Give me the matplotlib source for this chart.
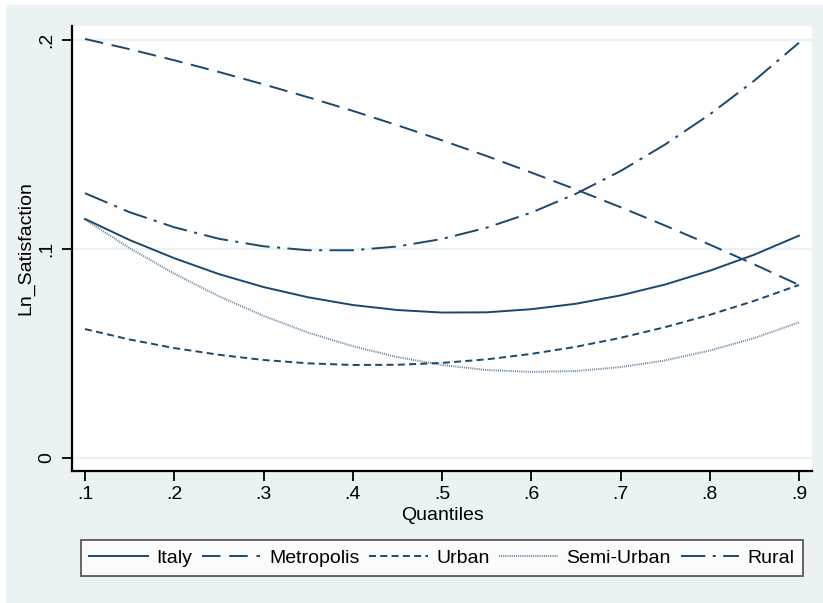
import matplotlib
matplotlib.use("Agg")
import matplotlib.pyplot as plt
from matplotlib.patches import Rectangle
import numpy as np

plt.rcParams['font.family'] = ['Liberation Sans', 'DejaVu Sans']

quantiles = [0.10, 0.15, 0.20, 0.25, 0.30, 0.35, 0.40, 0.45, 0.50,
             0.55, 0.60, 0.65, 0.70, 0.75, 0.80, 0.85, 0.90]
italy = [0.1144, 0.1043, 0.0956, 0.0880, 0.0818, 0.0769, 0.0732, 0.0708, 0.0696,
         0.0697, 0.0712, 0.0738, 0.0778, 0.0830, 0.0896, 0.0973, 0.1064]
metropolis = [0.2005, 0.1956, 0.1903, 0.1847, 0.1788, 0.1726, 0.1661, 0.1592, 0.1520,
              0.1445, 0.1366, 0.1285, 0.1200, 0.1112, 0.1021, 0.0926, 0.0828]
urban = [0.0617, 0.0567, 0.0526, 0.0494, 0.0469, 0.0453, 0.0445, 0.0446, 0.0455,
         0.0472, 0.0498, 0.0532, 0.0575, 0.0626, 0.0685, 0.0752, 0.0828]
semi_urban = [0.1140, 0.1004, 0.0882, 0.0774, 0.0680, 0.0600, 0.0535, 0.0483, 0.0445,
              0.0421, 0.0412, 0.0416, 0.0435, 0.0467, 0.0514, 0.0574, 0.0649]
rural = [0.1267, 0.1176, 0.1104, 0.1049, 0.1013, 0.0994, 0.0994, 0.1012, 0.1048,
         0.1102, 0.1174, 0.1264, 0.1373, 0.1500, 0.1644, 0.1806, 0.1987]

series_labels = ["Italy", "Metropolis", "Urban", "Semi-Urban", "Rural"]
xticks = [0.1, 0.2, 0.3, 0.4, 0.5, 0.6, 0.7, 0.8, 0.9]
xticklabels = [".1", ".2", ".3", ".4", ".5", ".6", ".7", ".8", ".9"]
yticks = [0.0, 0.1, 0.2]
yticklabels = ["0", ".1", ".2"]

W, H = 823, 603
fig = plt.figure(figsize=(W / 100, H / 100), dpi=100, facecolor="white")
bg = "#eaf2f3"
fig.patches.append(Rectangle((6 / W, 0), 1, 1 - 5 / H, transform=fig.transFigure,
                             facecolor=bg, edgecolor="none", zorder=-10))

ax = fig.add_axes([72 / W, 1 - 471 / H, (812 - 72) / W, (471 - 26) / H])
ax.set_facecolor("white")

navy = "#1a476f"
lw = 1.4
styles = [
    dict(linestyle="-"),
    dict(linestyle=(0, (9.5, 4.5))),
    dict(linestyle=(0, (3.6, 2.2))),
    dict(linestyle=(0, (0.5, 0.6)), alpha=0.7),
    dict(linestyle=(0, (12.5, 3.8, 1.6, 3.8))),
]
data = [italy, metropolis, urban, semi_urban, rural]
for vals, lab, st in zip(data, series_labels, styles):
    ax.plot(quantiles, vals, color=navy, lw=lw, label=lab, **st)

ax.set_xlim(0.1 - 13 / 892.5, 0.9 + 13 / 892.5)
ax.set_ylim(-13 / 2090, 0.2 + 14 / 2090)

ax.set_yticks(yticks)
ax.set_yticklabels(yticklabels, rotation=90, va="center")
ax.set_xticks(xticks)
ax.set_xticklabels(xticklabels)
ax.tick_params(axis="both", direction="out", length=7, width=1.3, color="black",
               labelsize=14, pad=4)
ax.tick_params(axis="y", pad=5)

ax.grid(axis="y", color="#eaf2f3", lw=1.6)
ax.set_axisbelow(True)
for s in ["top", "right"]:
    ax.spines[s].set_visible(False)
for s in ["left", "bottom"]:
    ax.spines[s].set_linewidth(1.6)
    ax.spines[s].set_color("black")

ax.set_xlabel("Quantiles", fontsize=14, labelpad=3)
ax.set_ylabel("Ln_Satisfaction", fontsize=14, labelpad=3)

leg = fig.legend(loc="center", bbox_to_anchor=(442 / W, 1 - 558 / H), ncol=5,
                 fontsize=14, frameon=True, fancybox=False, handlelength=3.0,
                 handletextpad=0.45, columnspacing=0.5, borderpad=0.45,
                 borderaxespad=0)
leg.get_frame().set_edgecolor("#404040")
leg.get_frame().set_linewidth(1.4)
leg.get_frame().set_facecolor("white")

fig.savefig("out.png", dpi=100, facecolor=fig.get_facecolor())
